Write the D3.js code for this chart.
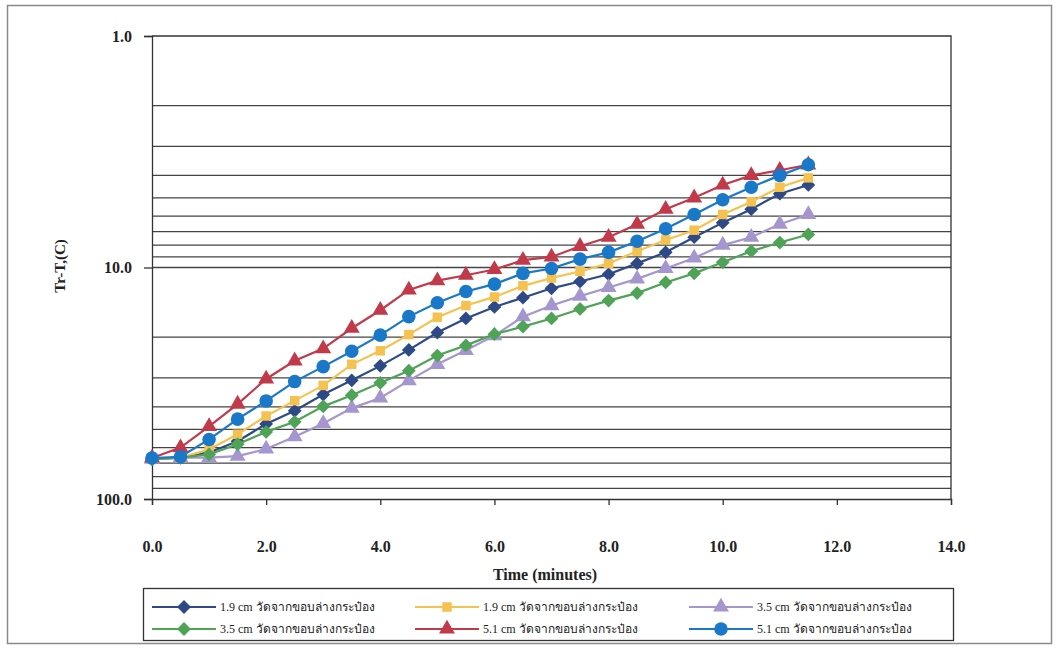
<!DOCTYPE html>
<html>
<head>
<meta charset="utf-8">
<script src="https://cdn.jsdelivr.net/npm/d3@7"></script>
<style>
  body { margin: 0; background: #fff; }
  text { font-family: "Liberation Serif", "DejaVu Serif", serif; }
</style>
</head>
<body>
<div id="chart"></div>
<script>
// time axis (minutes)
var times = [0, 0.5, 1, 1.5, 2, 2.5, 3, 3.5, 4, 4.5, 5, 5.5, 6, 6.5, 7, 7.5, 8, 8.5, 9, 9.5, 10, 10.5, 11, 11.5];

// Tr-T (C) for each probe
var navy19   = [67.2, 66.3, 63.0, 56.3, 47.4, 41.6, 35.4, 30.7, 26.6, 22.7, 19.1, 16.6, 14.8, 13.5, 12.3, 11.5, 10.7, 9.6, 8.6, 7.4, 6.4, 5.6, 4.8, 4.4];
var yellow19 = [67.2, 66.3, 61.1, 52.5, 43.8, 37.6, 32.3, 26.2, 22.9, 19.5, 16.4, 14.6, 13.4, 12.0, 11.1, 10.4, 9.6, 8.5, 7.6, 6.9, 5.9, 5.2, 4.5, 4.1];
var purple35 = [67.2, 66.3, 66.2, 65.3, 60.8, 53.8, 47.2, 40.5, 36.6, 30.8, 26.2, 22.8, 19.7, 16.3, 14.6, 13.3, 12.2, 11.2, 10.1, 9.1, 8.0, 7.4, 6.5, 5.9];
var green35  = [67.2, 66.3, 64.2, 58.0, 51.3, 46.4, 39.8, 35.6, 31.5, 27.9, 24.0, 21.7, 19.4, 18.0, 16.6, 15.1, 13.9, 12.9, 11.6, 10.6, 9.5, 8.5, 7.8, 7.2];
var red51    = [66.5, 60.0, 48.6, 38.9, 30.3, 25.3, 22.4, 18.3, 15.3, 12.5, 11.4, 10.8, 10.2, 9.3, 9.0, 8.1, 7.4, 6.5, 5.6, 5.0, 4.4, 4.0, 3.8, 3.6];
var blue51   = [66.5, 65.7, 55.3, 45.2, 37.7, 31.1, 26.8, 23.0, 19.6, 16.3, 14.2, 12.7, 11.8, 10.6, 10.1, 9.2, 8.6, 7.7, 6.8, 5.9, 5.1, 4.5, 4.0, 3.6];

var legendNames = [
  "1.9 cm วัดจากขอบล่างกระป๋อง", "1.9 cm วัดจากขอบล่างกระป๋อง", "3.5 cm วัดจากขอบล่างกระป๋อง",
  "3.5 cm วัดจากขอบล่างกระป๋อง", "5.1 cm วัดจากขอบล่างกระป๋อง", "5.1 cm วัดจากขอบล่างกระป๋อง"
];

var xTicks = [0, 2, 4, 6, 8, 10, 12, 14];
var yMajor = [1, 10, 100];
var yMinor = [2, 3, 4, 5, 6, 7, 8, 9, 20, 30, 40, 50, 60, 70, 80, 90];

var series = [
  {name: legendNames[0], values: navy19,   color: "#2d4a87", shape: "diamond"},
  {name: legendNames[1], values: yellow19, color: "#f5c24f", shape: "square"},
  {name: legendNames[2], values: purple35, color: "#a596cf", shape: "triangle"},
  {name: legendNames[3], values: green35,  color: "#4fa356", shape: "diamond"},
  {name: legendNames[4], values: red51,    color: "#c23a4a", shape: "triangle"},
  {name: legendNames[5], values: blue51,   color: "#1a78c8", shape: "circle"}
];

var W = 1059, H = 650;
var plot = {left: 152, right: 951, top: 36, bottom: 499};

var svg = d3.select("#chart")
  .append("svg")
    .attr("width", W)
    .attr("height", H);

// chart frame
svg.append("rect")
  .attr("x", 7.5).attr("y", 5.5)
  .attr("width", 1044).attr("height", 638)
  .attr("fill", "none")
  .attr("stroke", "#8a8a8a")
  .attr("stroke-width", 1.5);

var x = d3.scaleLinear()
  .domain([0, 14])
  .range([plot.left, plot.right]);

// log scale, 1 at the top, 100 at the bottom
var y = d3.scaleLog()
  .domain([1, 100])
  .range([plot.top, plot.bottom]);

// gridlines
svg.append("g")
  .selectAll("line")
  .data(yMinor.concat([10]))
  .enter()
  .append("line")
    .attr("x1", plot.left).attr("x2", plot.right)
    .attr("y1", function(d) { return y(d); })
    .attr("y2", function(d) { return y(d); })
    .attr("stroke", "#444")
    .attr("stroke-width", 1.3);

// plot border (top + right)
svg.append("path")
  .attr("d", "M" + plot.left + "," + plot.top + "H" + plot.right + "V" + plot.bottom)
  .attr("fill", "none")
  .attr("stroke", "#333")
  .attr("stroke-width", 1.3);

// y axis
var yAxis = d3.axisLeft(y)
  .tickValues(yMajor)
  .tickFormat(d3.format(".1f"))
  .tickSize(8)
  .tickPadding(12);

var gy = svg.append("g")
  .attr("transform", "translate(" + plot.left + ",0)")
  .call(yAxis);
gy.select(".domain").attr("stroke", "#333").attr("stroke-width", 1.3);
gy.selectAll(".tick line").attr("stroke", "#333").attr("stroke-width", 1.3);
gy.selectAll(".tick text")
  .attr("font-family", "Liberation Serif, serif")
  .attr("font-size", 16)
  .attr("font-weight", "bold")
  .attr("fill", "#222");

// x axis
var xAxis = d3.axisBottom(x)
  .tickValues(xTicks)
  .tickFormat(d3.format(".1f"))
  .tickSize(6)
  .tickPadding(36);

var gx = svg.append("g")
  .attr("transform", "translate(0," + plot.bottom + ")")
  .call(xAxis);
gx.select(".domain").attr("stroke", "#333").attr("stroke-width", 1.3);
gx.selectAll(".tick line").attr("stroke", "#333").attr("stroke-width", 1.3);
gx.selectAll(".tick text")
  .attr("font-family", "Liberation Serif, serif")
  .attr("font-size", 16)
  .attr("font-weight", "bold")
  .attr("fill", "#222");

// axis titles
svg.append("text")
  .attr("x", 545)
  .attr("y", 580)
  .attr("text-anchor", "middle")
  .attr("font-size", 16)
  .attr("font-weight", "bold")
  .attr("fill", "#222")
  .text("Time (minutes)");

svg.append("text")
  .attr("transform", "translate(65,266) rotate(-90)")
  .attr("text-anchor", "middle")
  .attr("font-size", 15)
  .attr("font-weight", "bold")
  .attr("fill", "#222")
  .text("Tr-T,(C)");

// square diamond like the spreadsheet marker
var wideDiamond = {
  draw: function(ctx, size) {
    var r = Math.sqrt(size / 2);
    ctx.moveTo(0, -r);
    ctx.lineTo(r, 0);
    ctx.lineTo(0, r);
    ctx.lineTo(-r, 0);
    ctx.closePath();
  }
};

var symbolOf = {
  diamond: d3.symbol().type(wideDiamond).size(95),
  square: d3.symbol().type(d3.symbolSquare).size(90),
  triangle: d3.symbol().type(d3.symbolTriangle).size(110),
  circle: d3.symbol().type(d3.symbolCircle).size(145)
};

var line = d3.line()
  .x(function(d) { return x(d[0]); })
  .y(function(d) { return y(d[1]); });

series.forEach(function(s) {
  var pts = times.map(function(t, i) { return [t, s.values[i]]; });
  var g = svg.append("g");
  g.append("path")
    .datum(pts)
    .attr("d", line)
    .attr("fill", "none")
    .attr("stroke", s.color)
    .attr("stroke-width", 2.2);
  g.selectAll("path.mk")
    .data(pts)
    .enter()
    .append("path")
      .attr("class", "mk")
      .attr("transform", function(d) { return "translate(" + x(d[0]) + "," + y(d[1]) + ")"; })
      .attr("d", symbolOf[s.shape])
      .attr("fill", s.color);
});

// legend
var legend = svg.append("g");
legend.append("rect")
  .attr("x", 143.5).attr("y", 588.5)
  .attr("width", 810).attr("height", 52)
  .attr("fill", "#fff")
  .attr("stroke", "#333")
  .attr("stroke-width", 1.3);

var colX = [152, 415, 689];
var rowY = [607, 629];

series.forEach(function(s, i) {
  var cx = colX[i % 3], cy = rowY[Math.floor(i / 3)];
  var item = legend.append("g").attr("transform", "translate(" + cx + "," + cy + ")");
  item.append("line")
    .attr("x1", 0).attr("x2", 64)
    .attr("stroke", s.color)
    .attr("stroke-width", 2.2);
  item.append("path")
    .attr("transform", "translate(32,0)")
    .attr("d", symbolOf[s.shape])
    .attr("fill", s.color);
  item.append("text")
    .attr("x", 68)
    .attr("y", 4)
    .attr("font-size", 12)
    .attr("fill", "#222")
    .text(s.name);
});
</script>
</body>
</html>
